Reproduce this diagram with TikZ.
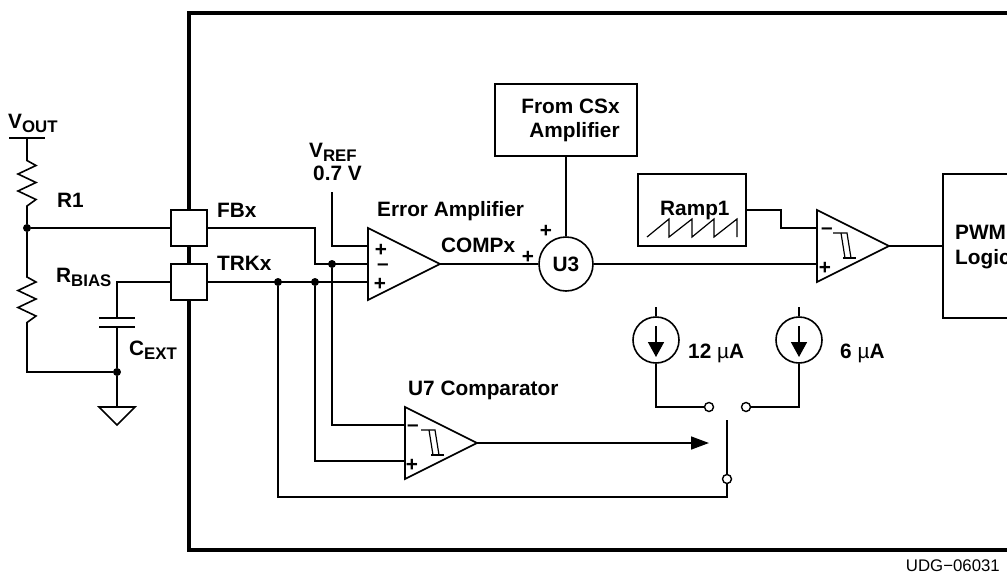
\documentclass[tikz,border=0pt]{standalone}
\usepackage{fontspec}
\setmainfont{Liberation Sans}
\usetikzlibrary{shapes.geometric, arrows.meta, positioning, calc}

\tikzset{
  wire/.style={line width=1.6pt, line join=miter},
  lbl/.style={font=\fontsize{20.8}{24}\selectfont\bfseries, inner sep=0pt, anchor=base west},
  pinbox/.style={draw, fill=white, line width=1.6pt, minimum size=36pt, inner sep=0pt},
  blockbox/.style={draw, fill=white, line width=1.6pt, inner sep=0pt},
  amp/.style={draw, fill=white, line width=1.6pt, isosceles triangle, isosceles triangle stretches,
    minimum width=72pt, minimum height=72pt, inner sep=0pt, outer sep=0pt, anchor=apex},
  dotnode/.style={circle, fill=black, minimum size=8pt, inner sep=0pt},
  opennode/.style={circle, draw, fill=white, line width=1.4pt, minimum size=9pt, inner sep=0pt},
  srcnode/.style={circle, draw, line width=1.6pt, minimum size=46pt, inner sep=0pt},
  zigpath/.style={insert path={-- ++(9,5) -- ++(-18,8.5) -- ++(18,8.5) -- ++(-18,8.5) -- ++(18,8.5) -- ++(-9,6.5)}},
  hyst/.pic={
    \draw[line width=1.2pt] (-11.5,-12.5) -- (2.5,-12.5) -- (6.5,12.5);
    \draw[line width=1.2pt] (-3.5,-12.5) -- (0.5,12.5);
    \draw[line width=1.2pt] (-1.5,12.5) -- (11.5,12.5);
  }
}
\newcommand{\subtxt}[2]{#1\raisebox{-4pt}{\fontsize{16.8}{20}\selectfont #2}}

\begin{document}
\begin{tikzpicture}[x=1pt, y=-1pt]
  \useasboundingbox (0,0) rectangle (1007,579);

  % chip outline
  \coordinate (frameTR) at (1007,13);
  \coordinate (frameBR) at (1007,550);
  \draw[line width=4pt, line join=miter] (frameTR) -- (188.5,13) -- (188.5,550) -- (frameBR);

  % pins and blocks
  \node[pinbox] (fbx) at (189,228) {};
  \node[pinbox] (trkx) at (189,282) {};
  \node[blockbox, minimum width=142pt, minimum height=72pt] (csx) at (566,120) {};
  \node[blockbox, minimum width=108pt, minimum height=72pt] (ramp) at (692,210) {};
  \node[blockbox, minimum width=107pt, minimum height=144pt] (pwm) at (996.5,246) {};
  \node[circle, draw, fill=white, line width=1.6pt, minimum size=54pt, inner sep=0pt] (u3) at (566,264) {};
  \node[amp] (erramp) at (440,264) {};
  \node[amp] (pwmcmp) at (889,246) {};
  \node[amp] (u7cmp) at (477,443) {};
  \pic at ($(pwmcmp.apex)+(-44.5,-0.5)$) {hyst};
  \pic at ($(u7cmp.apex)+(-44.5,-0.5)$) {hyst};

  % junctions
  \node[dotnode] (r1dot) at (27,228) {};
  \node[dotnode] (cdot) at (117,372) {};
  \node[dotnode] (fbdot) at (332,264) {};
  \node[dotnode] (trkdotA) at (315,282) {};
  \node[dotnode] (trkdotB) at (278,282) {};

  % external network
  \coordinate (voutL) at (9,138);
  \coordinate (voutR) at (45,138);
  \coordinate (voutM) at (27,138);
  \draw[wire] (voutL) -- (voutR);
  \draw[wire] (voutM) -- (27,160.5) [zigpath] -- (r1dot);
  \draw[wire] (r1dot) -- (27,277) [zigpath] -- (27,372) -- (cdot);
  \draw[wire] (r1dot) -- (fbx);
  \coordinate (capA) at (117,318);
  \coordinate (capB) at (117,327);
  \coordinate (gnd) at (117,407);
  \draw[wire] (trkx.west) -- (117,282) -- (capA);
  \draw[wire] (capB) -- (cdot) -- (gnd);
  \draw[wire] ($(capA)+(-18,0)$) -- ($(capA)+(18,0)$);
  \draw[wire] ($(capB)+(-18,0)$) -- ($(capB)+(18,0)$);
  \draw[wire] ($(gnd)+(-18,0)$) -- ($(gnd)+(18,0)$) -- ($(gnd)+(0,18)$) -- cycle;

  % inputs of the amplifiers
  \coordinate (vrefTop) at (332,192);
  \coordinate (errP) at (368,246);
  \coordinate (errM) at (368,264);
  \coordinate (errQ) at (368,282);
  \coordinate (u7M) at (405,425);
  \coordinate (u7P) at (405,461);
  \coordinate (pwmM) at (817,228);
  \coordinate (pwmP) at (817,264);
  \draw[wire] (fbx.east) -- (315,228) -- (315,264) -- (errM);
  \draw[wire] (trkx.east) -- (errQ);
  \draw[wire] (vrefTop) |- (errP);
  \draw[wire] (fbdot) |- (u7M);
  \draw[wire] (trkdotA) |- (u7P);
  \draw[wire] (erramp.apex) -- (u3);
  \draw[wire] (u3) -- (pwmP);
  \draw[wire] (ramp.east) -- (781,210) -- (781,228) -- (pwmM);
  \draw[wire] (pwmcmp.apex) -- (pwm.west);
  \draw[wire] (csx.south) -- (u3.north);

  % saw tooth of the ramp
  \draw[wire, line width=1.2pt] (647,237) -- (669,219) -- (669,237) -- (692,219) -- (692,237)
    -- (714,219) -- (714,237) -- (737,219) -- (737,237);

  % current sources and switch
  \node[srcnode] (src12) at (656,340) {};
  \node[srcnode] (src6) at (799,340) {};
  \node[opennode] (sw12) at (709,407) {};
  \node[opennode] (sw6) at (746,407) {};
  \node[opennode] (swbase) at (727,479) {};
  \coordinate (poleTop) at (727,420);
  \coordinate (src12top) at (656,307);
  \coordinate (src6top) at (799,307);
  \draw[wire] (src12top) -- (src12.north);
  \draw[wire] (src6top) -- (src6.north);
  \foreach \srcname in {src12, src6} {
    \draw[wire, -{Triangle[length=15pt, width=16pt]}] ($(\srcname.center)+(0,-14)$) -- ($(\srcname.center)+(0,17)$);
  }
  \draw[wire] (src12.south) |- (sw12);
  \draw[wire] (src6.south) |- (sw6);
  \draw[wire] (poleTop) -- (swbase);
  \draw[wire] (trkdotB) |- (727,497) -- (swbase);
  \coordinate (arrowEnd) at (709,443);
  \draw[wire, -{Triangle[length=18pt, width=13pt]}] (u7cmp.apex) -- (arrowEnd);

  % labels
  \node[lbl] (voutlbl) at (8,128) {\subtxt{V}{OUT}};
  \node[lbl] (r1lbl) at (57,207) {R1};
  \node[lbl] (rbiaslbl) at (56,282) {\subtxt{R}{BIAS}};
  \node[lbl] (cextlbl) at (129,355) {\subtxt{C}{EXT}};
  \node[lbl] (fblbl) at (217,217) {FBx};
  \node[lbl] (trklbl) at (217,270) {TRKx};
  \node[lbl] (vreflbl) at (309,157) {\subtxt{V}{REF}};
  \node[lbl] (vvallbl) at (313,180) {0.7 V};
  \node[lbl] (errlbl) at (377,216) {Error Amplifier};
  \node[lbl] (complbl) at (441,252) {COMPx};
  \node[lbl, anchor=center, align=right] (csxlbl) at (570.5,120.5) {From CSx\\Amplifier};
  \node[lbl, anchor=center] (u3lbl) at (566,264) {U3};
  \node[lbl] (ramplbl) at (660,215) {Ramp1};
  \node[lbl] (pwmlbl) at (955,239) {PWM};
  \node[lbl] (logiclbl) at (955,264) {Logic};
  \node[lbl] (u7lbl) at (408,395) {U7 Comparator};
  \node[lbl] (a12lbl) at (688,358) {12 {\mdseries µ}A};
  \node[lbl] (a6lbl) at (840,358) {6 {\mdseries µ}A};
  \node[lbl, anchor=center] (plusA) at (546,231) {+};
  \node[lbl, anchor=center] (plusB) at (528,257) {+};
  \node[lbl, anchor=center] (errplusA) at (381,250) {+};
  \node[lbl, anchor=center] (errminus) at (383,267) {--};
  \node[lbl, anchor=center] (errplusB) at (380,284) {+};
  \node[lbl, anchor=center] (pwmminus) at (827,231) {--};
  \node[lbl, anchor=center] (pwmplus) at (825,268) {+};
  \node[lbl, anchor=center] (u7minus) at (413,428) {--};
  \node[lbl, anchor=center] (u7plus) at (412,465) {+};
  \node[lbl, anchor=base east, font=\fontsize{16.8}{20}\selectfont] (udglbl) at (1000,571) {UDG−06031};
\end{tikzpicture}
\end{document}
